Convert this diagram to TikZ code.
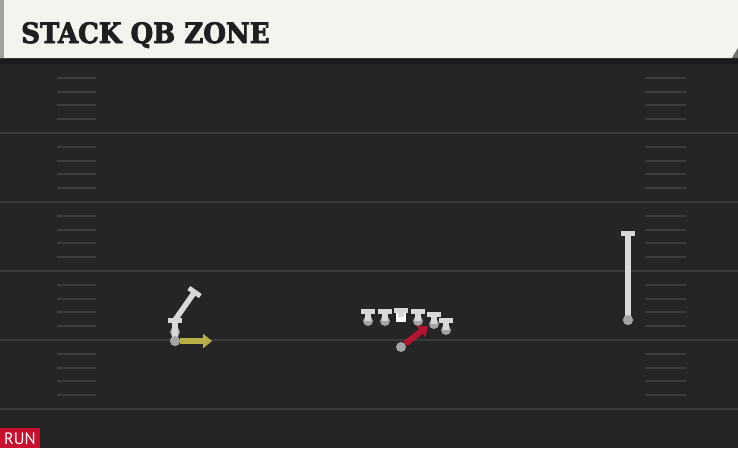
\documentclass[tikz,border=0pt]{standalone}
\usepackage{fontspec}
\usetikzlibrary{arrows.meta}
\newfontfamily\titlefont{DejaVu Serif}[BoldFeatures={FakeBold=3}]
\newfontfamily\tagfont{PT Sans}
\definecolor{fieldbg}{HTML}{252525}
\definecolor{shadowbg}{HTML}{1A1A1A}
\definecolor{yardline}{HTML}{3A3A3A}
\definecolor{hashline}{HTML}{3C3C3C}
\definecolor{headcream}{HTML}{F5F3EE}
\definecolor{headedge}{HTML}{A0A09C}
\definecolor{plyrgray}{HTML}{D8D8D8}
\definecolor{dotgray}{HTML}{A4A4A4}
\definecolor{motionyellow}{HTML}{B6B046}
\definecolor{runred}{HTML}{B3142E}
\definecolor{tagred}{HTML}{C8102E}
\tikzset{
  plyr/.style={circle, fill=dotgray, inner sep=0pt, minimum size=10pt},
  ctr/.style={rectangle, fill=white, inner sep=0pt, minimum size=10pt},
  stem/.style={draw=plyrgray, line width=5.5pt, -{Bar[width=14pt, line width=5pt]}},
  route/.style={draw=plyrgray, line width=5.5pt, -{Bar[width=14pt, line width=5pt]}},
  motion/.style={draw=motionyellow, line width=6pt, -{Triangle[width=14pt, length=9pt]}},
  runpath/.style={draw=runred, line width=6pt, -{Triangle[width=14pt, length=9pt]}}
}
\begin{document}
\begin{tikzpicture}[x=1pt, y=-1pt]
	\useasboundingbox (0,0) rectangle (738,448);
	%field
	\fill[fieldbg] (0,0) rectangle (738,448);
	\fill[shadowbg] (0,56) rectangle (738,64);
	
	\foreach \k in {1,...,25}{
		\pgfmathtruncatemacro{\r}{mod(\k,5)}
		\ifnum\r=0
			\draw[yardline, line width=2pt] (0, 64+\k*13.8)--(738, 64+\k*13.8);
		\else
			\draw[hashline, line width=2pt] (57, 64+\k*13.8)--(96, 64+\k*13.8);
			\draw[hashline, line width=2pt] (645, 64+\k*13.8)--(686, 64+\k*13.8);
		\fi
	}
	
	%header
	\fill[headcream] (0,0) -- (738,0) -- (738,48) -- (732,58) -- (0,58) -- cycle;
	\fill[headedge] (0,0) rectangle (4,58);
	\fill[headedge!70!black] (732,58) -- (738,48) -- (738,58) -- cycle;
	\node[anchor=base west, inner sep=0pt, xscale=0.93, text=black!88] (title) at (21,43)
		{\titlefont\bfseries\fontsize{28}{28}\selectfont STACK QB ZONE};
	
	%line
	\foreach \px/\py/\nm in {368/321/lt, 385/321/lg, 418/321/rg, 434/324/rt, 446/330/te}{
		\node[plyr] (\nm) at (\px, \py){};
		\draw[stem] (\nm.center) -- ++(0,-12);
	}
	\node[ctr] (c) at (401,317){};
	\draw[stem] (c.center) -- ++(0,-9);
	
	%runner
	\node[plyr] (rb) at (401,347){};
	\coordinate (hole) at (428,326);
	\draw[runpath] (rb) -- (hole);
	
	%slot
	\node[plyr] (slot) at (175,332){};
	\coordinate (slottop) at (175,320);
	\coordinate (slotend) at (196,290);
	\draw[draw=plyrgray, line width=5.5pt] (slot.center) -- (slottop);
	\draw[draw=plyrgray, line width=5pt] (slottop) ++(-7,0) -- ++(14,0);
	\draw[route] (slottop) -- (slotend);
	\node[plyr] (mot) at (175,341){};
	\draw[draw=plyrgray, line width=5.5pt] (slot.center) -- (mot.center);
	\node[plyr] (mot) at (175,341){};
	\coordinate (motend) at (212,341);
	\draw[motion] (mot.east) -- (motend);
	
	%wide
	\node[plyr] (wr) at (628,320){};
	\coordinate (wrend) at (628,231);
	\draw[route] (wr.center) -- (wrend);
	\node[plyr] (wr) at (628,320){};
	
	%tag
	\fill[tagred] (0,428) rectangle (40,448);
	\node[inner sep=0pt, text=white] (tag) at (20,438.5)
		{\tagfont\fontsize{16.5}{16.5}\selectfont RUN};
\end{tikzpicture}
\end{document}
